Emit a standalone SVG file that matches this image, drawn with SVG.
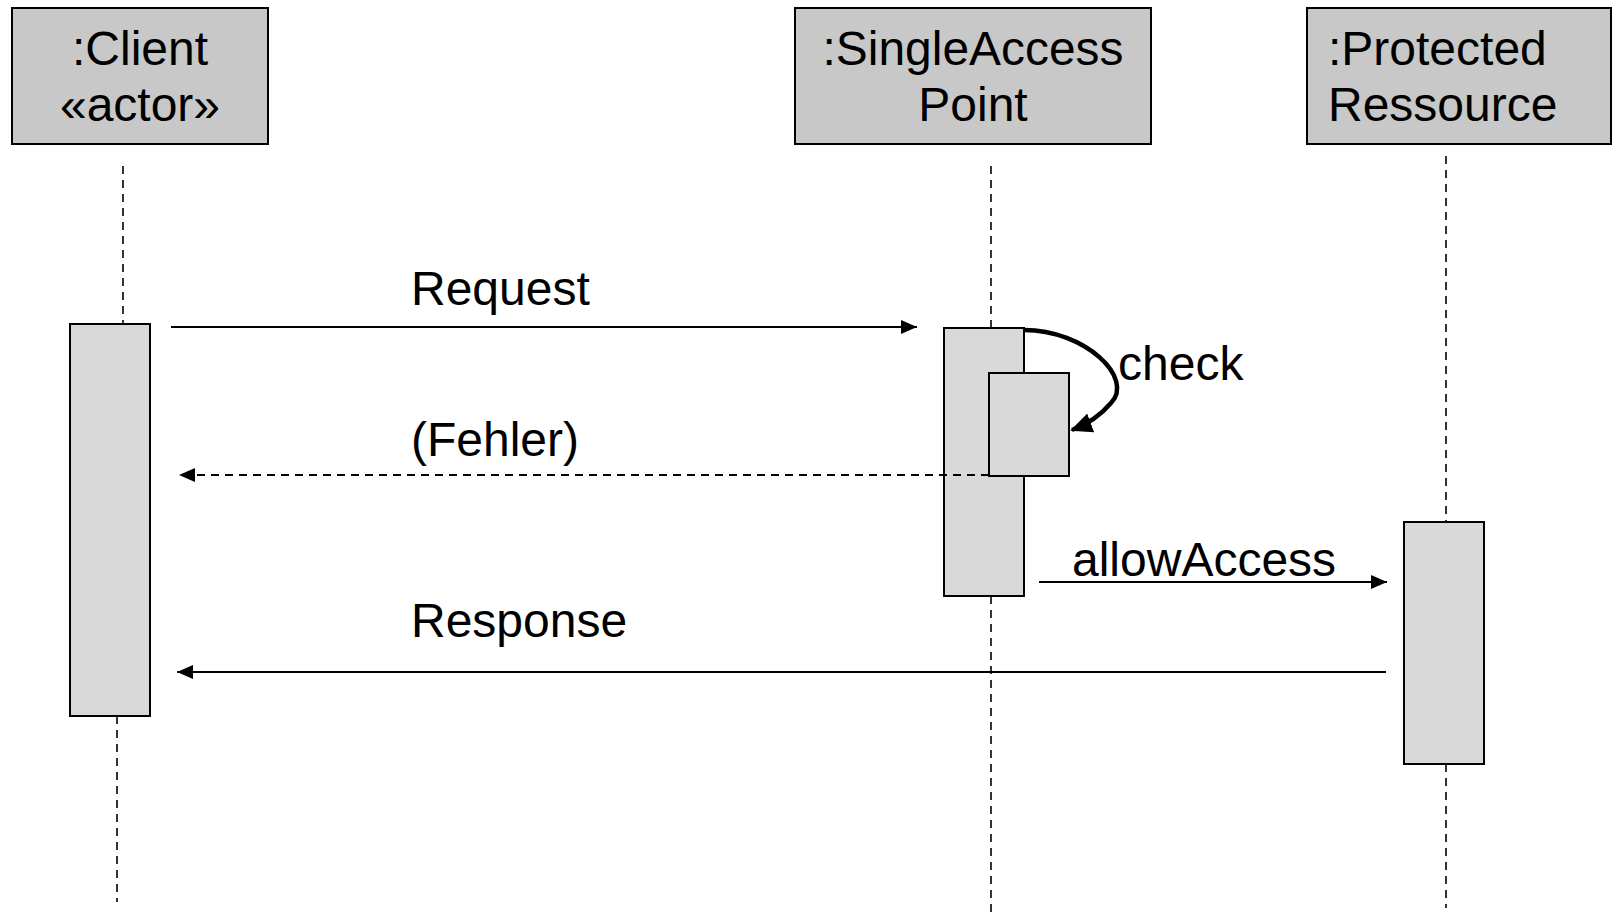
<svg xmlns="http://www.w3.org/2000/svg" width="1612" height="912" viewBox="0 0 1612 912">
  <style>
    .head { fill: #c8c8c8; stroke: #000; stroke-width: 2; }
    .act { fill: #d9d9d9; stroke: #000; stroke-width: 2; }
    .life { stroke: #000; stroke-width: 1.6; stroke-dasharray: 8 6; fill: none; }
    .msg { stroke: #000; stroke-width: 1.8; fill: none; }
    .ret { stroke: #000; stroke-width: 1.8; stroke-dasharray: 8 6; fill: none; }
    text { font-family: "Liberation Sans", Arial, sans-serif; font-size: 48px; fill: #000; }
  </style>
  <defs>
    <marker id="arrow" viewBox="0 0 16 14" refX="16" refY="7" markerWidth="16" markerHeight="14" markerUnits="userSpaceOnUse" orient="auto">
      <path d="M0,0 L16,7 L0,14 Z" fill="#000"/>
    </marker>
    <marker id="arrowBold" viewBox="0 0 22 20" refX="20" refY="10" markerWidth="22" markerHeight="20" markerUnits="userSpaceOnUse" orient="auto">
      <path d="M0,0 L22,10 L0,20 Z" fill="#000"/>
    </marker>
  </defs>
  <rect width="1612" height="912" fill="#fff"/>

  <!-- lifelines -->
  <g id="lifelines">
    <line class="life" x1="123" y1="166" x2="123" y2="324"/>
    <line class="life" x1="117" y1="716" x2="117" y2="902"/>
    <line class="life" x1="991" y1="166" x2="991" y2="327"/>
    <line class="life" x1="991" y1="596" x2="991" y2="912"/>
    <line class="life" x1="1446" y1="156" x2="1446" y2="521"/>
    <line class="life" x1="1446" y1="764" x2="1446" y2="908"/>
  </g>

  <!-- participants -->
  <g id="client">
    <rect class="head" x="12" y="8" width="256" height="136"/>
    <text x="140" y="65" text-anchor="middle">:Client</text>
    <text x="140" y="121" text-anchor="middle">«actor»</text>
    <rect class="act" x="70" y="324" width="80" height="392"/>
  </g>
  <g id="singleAccessPoint">
    <rect class="head" x="795" y="8" width="356" height="136"/>
    <text x="973" y="65" text-anchor="middle" textLength="301" lengthAdjust="spacingAndGlyphs">:SingleAccess</text>
    <text x="973" y="121" text-anchor="middle">Point</text>
    <rect class="act" x="944" y="328" width="80" height="268"/>
    <rect class="act" x="989" y="373" width="80" height="103"/>
  </g>
  <g id="protectedRessource">
    <rect class="head" x="1307" y="8" width="304" height="136"/>
    <text x="1328" y="65">:Protected</text>
    <text x="1328" y="121">Ressource</text>
    <rect class="act" x="1404" y="522" width="80" height="242"/>
  </g>

  <!-- messages -->
  <g id="connectors">
    <line class="msg" x1="171" y1="327" x2="917" y2="327" marker-end="url(#arrow)"/>
    <path d="M1024,330 C1085,330 1135,378 1111,403 C1100,416 1088,424 1072,430" stroke="#000" stroke-width="4.5" fill="none" marker-end="url(#arrowBold)"/>
    <line class="ret" x1="989" y1="475" x2="179" y2="475" marker-end="url(#arrow)"/>
    <line class="msg" x1="1039" y1="582" x2="1387" y2="582" marker-end="url(#arrow)"/>
    <line class="msg" x1="1386" y1="672" x2="177" y2="672" marker-end="url(#arrow)"/>
  </g>

  <!-- message labels -->
  <g id="labels">
    <text x="411" y="305">Request</text>
    <text x="1118" y="380">check</text>
    <text x="411" y="456">(Fehler)</text>
    <text x="1072" y="576">allowAccess</text>
    <text x="411" y="637">Response</text>
  </g>
</svg>
